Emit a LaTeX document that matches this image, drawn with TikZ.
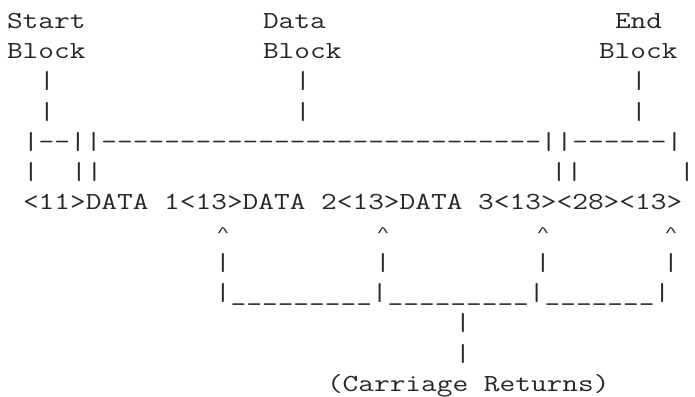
\documentclass[tikz,border=0pt]{standalone}
\usepackage{fontspec}
\usepackage{graphicx}
\newfontfamily\asciimono[Ligatures=TeXOff,FakeStretch=1.244]{Latin Modern Mono}
\newfontfamily\caretmono[Ligatures=TeXOff]{Liberation Mono}
\newcommand\caretchar{\hspace*{1.6pt}\raisebox{3.5pt}{\scalebox{0.8}[0.5]{\caretmono\fontsize{26.67}{30}\selectfont\symbol{94}}}}
\begin{document}
\begin{tikzpicture}[x=1pt,y=-1pt,
  txt/.style={font=\asciimono\fontsize{24.5}{30}\selectfont, inner sep=0pt, outer sep=0pt, anchor=base west, text=black!85}]
\useasboundingbox (0,0) rectangle (695,396);
% row 0
\node[txt] (start) at (7,28.3) {Start};
\node[txt] (data) at (263,28.3) {Data};
\node[txt] (end) at (615,28.3) {End};
% row 1
\node[txt] (blockA) at (7,58.55) {Block};
\node[txt] (blockB) at (263,58.55) {Block};
\node[txt] (blockC) at (599,58.55) {Block};
% rows 2-3
\node[txt] (sA1) at (39,88.8) {|};
\node[txt] (sB1) at (295,88.8) {|};
\node[txt] (sC1) at (631,88.8) {|};
\node[txt] (sA2) at (39,119.05) {|};
\node[txt] (sB2) at (295,119.05) {|};
\node[txt] (sC2) at (631,119.05) {|};
% row 4
\node[txt] (brace) at (23,149.3) {|--||----------------------------||------|};
% row 5
\node[txt] (b1) at (23,179.55) {|};
\node[txt] (b2) at (71,179.55) {||};
\node[txt] (b3) at (551,179.55) {||};
\node[txt] (b4) at (679,179.55) {|};
% row 6
\node[txt] (main) at (23,209.8) {<11>DATA 1<13>DATA 2<13>DATA 3<13><28><13>};
% row 7
\node[txt] (c1) at (215,240.05) {\caretchar};
\node[txt] (c2) at (375,240.05) {\caretchar};
\node[txt] (c3) at (535,240.05) {\caretchar};
\node[txt] (c4) at (663,240.05) {\caretchar};
% row 8
\node[txt] (p1) at (215,270.3) {|};
\node[txt] (p2) at (375,270.3) {|};
\node[txt] (p3) at (535,270.3) {|};
\node[txt] (p4) at (663,270.3) {|};
% row 9
\node[txt] (under) at (215,300.55) {|\_\_\_\_\_\_\_\_\_|\_\_\_\_\_\_\_\_\_|\_\_\_\_\_\_\_|};
% rows 10-11
\node[txt] (q1) at (455,330.8) {|};
\node[txt] (q2) at (455,361.05) {|};
% row 12
\node[txt] (cr) at (327,391.3) {(Carriage Returns)};
\end{tikzpicture}
\end{document}
